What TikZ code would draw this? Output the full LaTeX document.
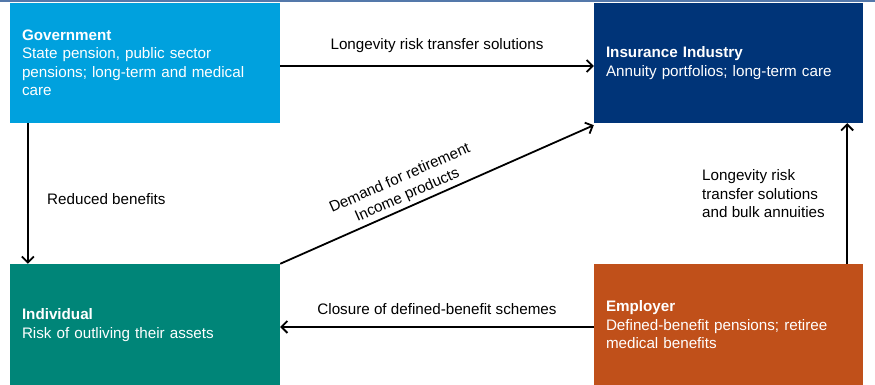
\documentclass[tikz,border=0pt]{standalone}
\usepackage{fontspec}
\setmainfont{Liberation Sans}
\usetikzlibrary{arrows.meta}
\definecolor{govblue}{RGB}{0,161,222}
\definecolor{insblue}{RGB}{0,52,120}
\definecolor{indgreen}{RGB}{0,133,120}
\definecolor{emporange}{RGB}{192,80,26}
\definecolor{topline}{RGB}{84,120,170}
\begin{document}
\begin{tikzpicture}[x=1pt,y=1pt,
  box/.style={rectangle, draw=none, text=white, inner xsep=12pt, inner ysep=0pt,
    text width=246pt, minimum width=270pt, align=left,
    font=\fontsize{15.2}{18.5}\selectfont},
  lbl/.style={font=\fontsize{15.2}{18.5}\selectfont, text=black, inner sep=1pt},
  arr/.style={line width=1.8pt, -{Straight Barb[length=6pt,width=12pt,line width=1.8pt]}}]
\useasboundingbox (0,0) rectangle (875,385);
\begin{scope}
\clip (0,0) rectangle (875,385);
\node[box, fill=govblue, minimum height=120pt] (gov) at (145,322)
  {\textbf{Government}\\State pension, public sector\\pensions; long-term and medical\\care};
\node[box, fill=insblue, minimum height=120pt, minimum width=269pt, text width=245pt] (ins) at (728.5,322)
  {\textbf{Insurance Industry}\\Annuity portfolios; long-term care};
\node[box, fill=indgreen, minimum height=122pt] (ind) at (145,60)
  {\textbf{Individual}\\Risk of outliving their assets};
\node[box, fill=emporange, minimum height=122pt, minimum width=269pt, text width=245pt] (emp) at (728.5,60)
  {\textbf{Employer}\\Defined-benefit pensions; retiree\\medical benefits};
\end{scope}
\draw[topline, line width=2pt] (0,384) -- (875,384);

\draw[arr] ([yshift=-3pt]gov.east) -- ([yshift=-3pt]ins.west)
  node[lbl, midway, above=11pt] {Longevity risk transfer solutions};
\draw[arr] ([xshift=18pt]gov.south west) -- ([xshift=18pt]ind.north west);
\node[lbl, anchor=west] (rb) at (46,186) {Reduced benefits};
\draw[arr] (ind.north east) -- ([yshift=-2pt]ins.south west)
  node[lbl, pos=0.42, above=2pt, sloped, align=center] {Demand for retirement\\Income products};
\draw[arr] ([xshift=-16pt]emp.north east) -- ([xshift=-16pt]ins.south east);
\node[lbl, anchor=west, align=left] (lr) at (701,191) {Longevity risk\\transfer solutions\\and bulk annuities};
\draw[arr] ([yshift=-2pt]emp.west) -- ([yshift=-2pt]ind.east)
  node[lbl, midway, above=10pt] {Closure of defined-benefit schemes};
\end{tikzpicture}
\end{document}
